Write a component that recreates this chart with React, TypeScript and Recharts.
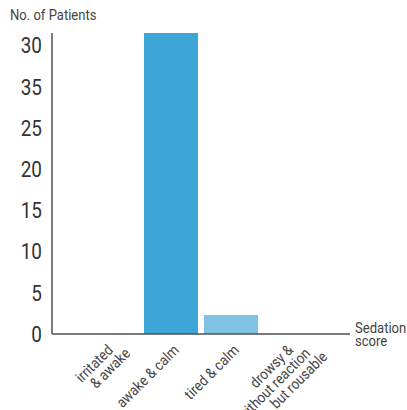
import { Bar, BarChart, Cell, XAxis, YAxis } from 'recharts';

const categories = ['irritated\n& awake', 'awake & calm', 'tired & calm', 'drowsy &\nwithout reaction\nbut rousable'];
const patients = [0, 36.5, 2.3, 0];
const barColors = ['#3ea5d7', '#3ea5d7', '#80c2e4', '#80c2e4'];
const yTicks = [0, 5, 10, 15, 20, 25, 30, 35];
// the printed chart has the two top labels swapped, kept as drawn
const yTickLabels = ['0', '5', '10', '15', '20', '25', '35', '30'];

const data = categories.map((name, i) => ({ name, patients: patients[i] }));

const fontFamily = 'Roboto, "Liberation Sans", sans-serif';
const axisColor = '#4f4f57';

const CategoryTick = ({ x, y, payload }: any) => {
  const lines = String(payload.value).split('\n');
  const shift = lines.length > 1 ? -6 : 0;
  return (
    <g transform={`translate(${x + 9 + shift},${y + 9})`}>
      <text transform="rotate(-45) scale(0.88,1)" textAnchor="end" fontSize={15} fill="#444" fontFamily={fontFamily}>
        {lines.map((line, i) => (
          <tspan key={i} x={i * 11} y={i * 14.5}>
            {line}
          </tspan>
        ))}
      </text>
    </g>
  );
};

const ValueTick = ({ x, y, payload }: any) => (
  <text
    transform={`translate(${x},${y}) scale(0.86,1)`}
    textAnchor="end"
    dy="0.36em"
    fontSize={22}
    fill="#333"
    fontFamily={fontFamily}
  >
    {yTickLabels[yTicks.indexOf(payload.value)]}
  </text>
);

const narrow = { display: 'inline-block', transform: 'scaleX(0.87)', transformOrigin: 'left top' } as const;

const App = () => (
  <div style={{ position: 'absolute', left: 0, top: 0, width: 407, height: 410, background: '#fff', fontFamily }}>
    <div style={{ position: 'absolute', left: 10, top: 7, fontSize: 15, color: '#444', lineHeight: '17px' }}>
      <span style={narrow}>No. of Patients</span>
    </div>
    <div style={{ position: 'absolute', left: 355, top: 322, fontSize: 15, color: '#444', lineHeight: '13px' }}>
      <span style={narrow}>
        Sedation
        <br />
        score
      </span>
    </div>
    <BarChart width={407} height={410} data={data} margin={{ top: 33, right: 57, bottom: 0, left: 0 }} barSize={54}>
      <XAxis
        dataKey="name"
        interval={0}
        height={76}
        padding={{ left: 29, right: 29 }}
        stroke={axisColor}
        strokeWidth={1.5}
        tickLine={false}
        tick={<CategoryTick />}
      />
      <YAxis
        width={52}
        domain={[0, 36.5]}
        ticks={yTicks}
        stroke={axisColor}
        strokeWidth={1.5}
        tickLine={false}
        tickMargin={4}
        tick={<ValueTick />}
      />
      <Bar dataKey="patients" isAnimationActive={false}>
        {data.map((entry, i) => (
          <Cell key={entry.name} fill={barColors[i]} />
        ))}
      </Bar>
    </BarChart>
  </div>
);

export default App;
